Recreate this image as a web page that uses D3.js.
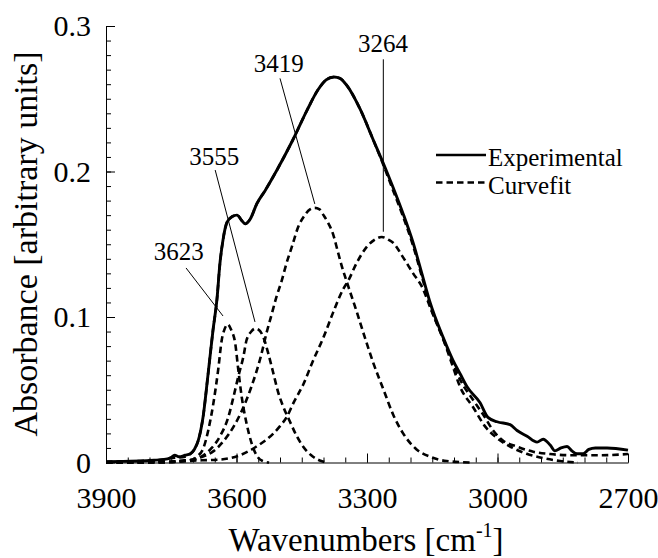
<!DOCTYPE html>
<html>
<head>
<meta charset="utf-8">
<script src="https://cdn.jsdelivr.net/npm/d3@7"></script>
</head>
<body style="margin:0">
<svg id="chart" width="658" height="558"></svg>
<script>
// ---------------- data ----------------
const experimental = [
  [3900,0.0005],[3860,0.0008],[3820,0.001],[3790,0.0015],[3770,0.002],[3753,0.003],[3742,0.005],
  [3732,0.004],[3718,0.005],[3706,0.006],[3697,0.009],[3688,0.015],[3677,0.031],[3666,0.059],
  [3654,0.091],[3645,0.112],[3638,0.137],[3631,0.153],[3622,0.165],[3610,0.169],[3599,0.170],
  [3587,0.166],[3580,0.164],[3569,0.167],[3553,0.178],[3534,0.187],[3507,0.201],[3470,0.222],
  [3438,0.242],[3413,0.256],[3394,0.263],[3376,0.265],[3362,0.264],[3346,0.259],[3316,0.243],
  [3286,0.222],[3263,0.206],[3240,0.189],[3217,0.171],[3194,0.151],[3174,0.130],[3155,0.110],
  [3125,0.086],[3102,0.070],[3086,0.061],[3070,0.052],[3040,0.041],[3022,0.031],[3001,0.028],
  [2971,0.026],[2955,0.022],[2932,0.018],[2909,0.014],[2895,0.016],[2879,0.012],[2868,0.008],
  [2854,0.010],[2840,0.011],[2829,0.008],[2817,0.006],[2803,0.006],[2790,0.009],[2775,0.010],
  [2748,0.010],[2700,0.0085]
];
const curvefitSum = [
  [3900,0.0005],[3860,0.0008],[3820,0.001],[3790,0.0015],[3770,0.002],[3753,0.003],[3718,0.004],
  [3706,0.006],[3697,0.009],[3688,0.015],[3677,0.031],[3666,0.059],[3654,0.091],[3645,0.112],
  [3638,0.137],[3631,0.153],[3622,0.165],[3610,0.169],[3599,0.170],[3587,0.166],[3580,0.164],
  [3569,0.167],[3553,0.178],[3534,0.187],[3507,0.201],[3470,0.222],[3438,0.242],[3413,0.256],
  [3394,0.263],[3376,0.265],[3362,0.264],[3346,0.259],[3316,0.243],[3286,0.222],[3263,0.205],
  [3240,0.187],[3217,0.169],[3194,0.149],[3174,0.128],[3155,0.108],[3125,0.085],[3102,0.068],
  [3086,0.057],[3056,0.043],[3033,0.033],[3010,0.022],[2987,0.015],[2956,0.011],[2918,0.0074],
  [2879,0.0058],[2833,0.005],[2764,0.005],[2700,0.0058]
];
const peak3623 = [
  [3900,0],[3780,0],[3720,0.001],[3700,0.002],[3691,0.004],[3676,0.010],[3665,0.022],[3653,0.041],
  [3642,0.064],[3634,0.084],[3627,0.092],[3620,0.095],[3612,0.091],[3603,0.082],[3596,0.064],
  [3588,0.045],[3577,0.027],[3565,0.013],[3554,0.005],[3540,0.001],[3525,0]
];
const peak3555 = [
  [3900,0],[3760,0.0005],[3720,0.0015],[3699,0.002],[3676,0.005],[3657,0.010],[3638,0.018],
  [3619,0.031],[3607,0.045],[3596,0.059],[3584,0.073],[3577,0.084],[3566,0.090],[3557,0.092],
  [3548,0.091],[3538,0.086],[3527,0.075],[3515,0.061],[3504,0.048],[3492,0.038],[3477,0.028],
  [3463,0.019],[3447,0.011],[3424,0.004],[3405,0.001],[3390,0]
];
const peak3419 = [
  [3900,0],[3780,0.0002],[3718,0.001],[3684,0.0034],[3652,0.008],[3629,0.015],[3606,0.025],
  [3587,0.036],[3567,0.051],[3544,0.073],[3531,0.089],[3519,0.102],[3508,0.114],[3496,0.125],
  [3485,0.137],[3473,0.148],[3458,0.162],[3443,0.170],[3431,0.174],[3420,0.175],[3409,0.174],
  [3400,0.170],[3390,0.165],[3378,0.157],[3368,0.146],[3358,0.135],[3343,0.121],[3324,0.104],
  [3305,0.086],[3285,0.068],[3262,0.050],[3240,0.033],[3217,0.020],[3186,0.009],[3155,0.004],
  [3117,0.001],[3060,0]
];
const peak3264 = [
  [3900,0],[3760,0.0005],[3680,0.0015],[3638,0.002],[3592,0.005],[3554,0.011],[3515,0.020],
  [3500,0.025],[3485,0.031],[3469,0.041],[3446,0.054],[3424,0.070],[3400,0.086],[3378,0.103],
  [3355,0.119],[3343,0.125],[3324,0.137],[3301,0.148],[3283,0.153],[3266,0.155],[3250,0.153],
  [3240,0.151],[3217,0.141],[3194,0.130],[3174,0.121],[3150,0.103],[3125,0.085],[3105,0.068],
  [3086,0.052],[3056,0.038],[3029,0.025],[3002,0.017],[2971,0.011],[2933,0.006],[2895,0.003],
  [2856,0.001],[2815,0]
];
const xTickValues = [3900, 3600, 3300, 3000, 2700];
const xTickLabels = ["3900", "3600", "3300", "3000", "2700"];
const yTickValues = [0, 0.1, 0.2, 0.3];
const yTickLabels = ["0", "0.1", "0.2", "0.3"];
const peakLabels = ["3623", "3555", "3419", "3264"];
// label anchor (wavenumber, absorbance) and leader line ends, in data units
const peakLabelPos = [[3733, 0.139], [3651, 0.2045], [3503, 0.2686], [3263, 0.2823]];
const leaderStart  = [[3716, 0.1337], [3649, 0.201], [3500, 0.264], [3262.5, 0.2771]];
const leaderEnd    = [[3631, 0.1007], [3557.5, 0.0966], [3420, 0.1777], [3262.5, 0.1586]];
const legendLabels = ["Experimental", "Curvefit"];

// ---------------- layout ----------------
const FONT = "Liberation Serif";
const svg = d3.select("#chart").attr("font-family", FONT);
const x = d3.scaleLinear().domain([3900, 2700]).range([106, 628]);
const y = d3.scaleLinear().domain([0, 0.3]).range([462.5, 26]);

function serif(sel, size) {
  return sel.attr("font-family", FONT).style("font-family", FONT)
    .attr("font-size", size).attr("fill", "#000");
}

// minor ticks
svg.append("g").attr("transform", "translate(0,462.5)")
  .call(d3.axisBottom(x).tickValues(d3.range(2700, 3901, 50)).tickSizeInner(-5).tickSizeOuter(0).tickFormat(""))
  .call(g => g.select(".domain").remove())
  .call(g => g.selectAll("text").remove())
  .selectAll("line").attr("stroke", "#000").attr("stroke-width", 1);
svg.append("g").attr("transform", "translate(106,0)")
  .call(d3.axisLeft(y).tickValues(d3.range(0, 31).map(i => i / 100)).tickSizeInner(-5).tickSizeOuter(0).tickFormat(""))
  .call(g => g.select(".domain").remove())
  .call(g => g.selectAll("text").remove())
  .selectAll("line").attr("stroke", "#000").attr("stroke-width", 1);

// major axes
const xAxis = svg.append("g").attr("transform", "translate(0,462.5)")
  .call(d3.axisBottom(x).tickValues(xTickValues).tickSizeInner(-9).tickSizeOuter(0).tickPadding(24)
    .tickFormat((d, i) => xTickLabels[i]));
xAxis.attr("font-family", FONT).attr("font-size", 30);
serif(xAxis.selectAll("text"), 30);
xAxis.selectAll("line, path").attr("stroke", "#000").attr("stroke-width", 1);

const yAxis = svg.append("g").attr("transform", "translate(106,0)")
  .call(d3.axisLeft(y).tickValues(yTickValues).tickSizeInner(-9).tickSizeOuter(0).tickPadding(15)
    .tickFormat((d, i) => yTickLabels[i]));
yAxis.attr("font-family", FONT).attr("font-size", 30);
serif(yAxis.selectAll("text"), 30);
yAxis.selectAll("line, path").attr("stroke", "#000").attr("stroke-width", 1);

// curves
const line = d3.line().x(d => x(d[0])).y(d => y(d[1])).curve(d3.curveMonotoneX);
const dashed = "6.5,4";
[peak3623, peak3555, peak3419, peak3264, curvefitSum].forEach(s => {
  svg.append("path").datum(s).attr("d", line)
    .attr("fill", "none").attr("stroke", "#000").attr("stroke-width", 2.6)
    .attr("stroke-dasharray", dashed);
});
svg.append("path").datum(experimental).attr("d", line)
  .attr("fill", "none").attr("stroke", "#000").attr("stroke-width", 2.9)
  .attr("stroke-linejoin", "round");

// peak annotations
peakLabels.forEach((lab, i) => {
  svg.append("line")
    .attr("x1", x(leaderStart[i][0])).attr("y1", y(leaderStart[i][1]))
    .attr("x2", x(leaderEnd[i][0])).attr("y2", y(leaderEnd[i][1]))
    .attr("stroke", "#000").attr("stroke-width", 1);
  serif(svg.append("text"), 25)
    .attr("x", x(peakLabelPos[i][0])).attr("y", y(peakLabelPos[i][1]))
    .attr("text-anchor", "middle").text(lab);
});

// legend
const legendY = [155, 182.5];
legendLabels.forEach((lab, i) => {
  svg.append("line").attr("x1", 436).attr("x2", 486).attr("y1", legendY[i]).attr("y2", legendY[i])
    .attr("stroke", "#000").attr("stroke-width", 2.6)
    .attr("stroke-dasharray", i === 0 ? null : dashed);
  serif(svg.append("text"), 25).attr("x", 488).attr("y", legendY[i] + 11).text(lab);
});

// axis titles
const xt = serif(svg.append("text"), 33).attr("x", 366).attr("y", 551).attr("text-anchor", "middle");
xt.append("tspan").text("Wavenumbers [cm");
xt.append("tspan").attr("dy", -14).attr("font-size", 20).text("-1");
xt.append("tspan").attr("dy", 14).text("]");

serif(svg.append("text"), 34).attr("transform", "translate(37,244) rotate(-90)")
  .attr("text-anchor", "middle").text("Absorbance [arbitrary units]");
</script>
</body>
</html>
